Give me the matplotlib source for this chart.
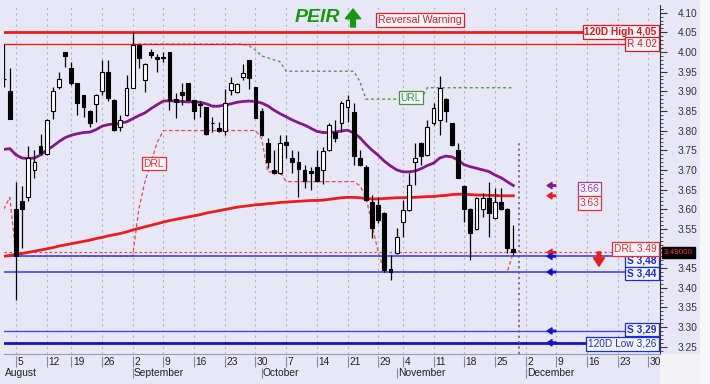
"""PEIR daily candles (Aug-Nov 2024) with support / resistance levels."""

import matplotlib
matplotlib.use("Agg")

import matplotlib.pyplot as plt
import numpy as np
import pandas as pd
from matplotlib.patches import Rectangle
from matplotlib.ticker import FuncFormatter, MultipleLocator
from matplotlib.transforms import blended_transform_factory

plt.rcParams["font.family"] = ["Liberation Sans", "DejaVu Sans"]

# ── trading calendar ───────────────────────────────────────────────────────────
first_day   = "2024-08-01"
last_day    = "2024-12-31"
holidays    = ["2024-08-15", "2024-10-28"]
month_names = ["August", "September", "October", "November", "December"]
marker_day  = "2024-11-29"
url_start   = "2024-09-02"

# ── OHLC, Aug 1 .. Nov 28 ──────────────────────────────────────────────────────
opens = [
    3.93, 3.90, 3.60, 3.62, 3.63, 3.70, 3.76, 3.74, 3.85, 3.91,
    4.00, 3.96, 3.92, 3.89, 3.85, 3.868, 3.90, 3.95, 3.878, 3.81,
    3.84, 3.909, 4.018, 3.929, 3.999, 3.988, 3.986, 4.001, 3.880, 3.899,
    3.920, 3.878, 3.865, 3.861, 3.820, 3.807, 3.799, 3.903, 3.899, 3.937,
    3.980, 3.912, 3.850, 3.768, 3.700, 3.691, 3.770, 3.731, 3.721, 3.700,
    3.697, 3.708, 3.700, 3.751, 3.797, 3.818, 3.861, 3.848, 3.729, 3.708,
    3.619, 3.611, 3.589, 3.447, 3.488, 3.568, 3.598, 3.719, 3.769, 3.738,
    3.818, 3.827, 3.880, 3.818, 3.751, 3.660, 3.600, 3.550, 3.600, 3.629,
    3.578, 3.619, 3.600, 3.499,
]
highs = [
    4.02, 3.96, 3.67, 3.66, 3.76, 3.75, 3.79, 3.83, 3.91, 3.95,
    4.00, 3.975, 3.92, 3.89, 3.853, 3.892, 3.98, 3.98, 3.88, 3.84,
    3.941, 4.05, 4.02, 3.971, 4.008, 3.996, 4.001, 4.001, 3.895, 3.92,
    3.920, 3.878, 3.874, 3.861, 3.835, 3.823, 3.907, 3.937, 3.920, 3.969,
    3.980, 3.912, 3.857, 3.780, 3.751, 3.789, 3.789, 3.751, 3.747, 3.712,
    3.708, 3.751, 3.757, 3.818, 3.827, 3.874, 3.890, 3.869, 3.751, 3.712,
    3.636, 3.632, 3.592, 3.484, 3.551, 3.623, 3.691, 3.768, 3.772, 3.827,
    3.869, 3.940, 3.882, 3.820, 3.768, 3.662, 3.602, 3.632, 3.640, 3.670,
    3.653, 3.653, 3.602, 3.560,
]
lows = [
    3.91, 3.83, 3.37, 3.50, 3.62, 3.68, 3.738, 3.738, 3.83, 3.905,
    3.963, 3.915, 3.84, 3.835, 3.81, 3.823, 3.89, 3.874, 3.799, 3.80,
    3.836, 3.909, 3.958, 3.899, 3.984, 3.95, 3.975, 3.852, 3.831, 3.865,
    3.878, 3.829, 3.835, 3.789, 3.797, 3.797, 3.789, 3.890, 3.895, 3.929,
    3.907, 3.831, 3.785, 3.704, 3.690, 3.689, 3.729, 3.691, 3.632, 3.653,
    3.649, 3.670, 3.663, 3.748, 3.772, 3.797, 3.823, 3.712, 3.710, 3.620,
    3.526, 3.565, 3.441, 3.420, 3.486, 3.530, 3.596, 3.662, 3.712, 3.734,
    3.814, 3.789, 3.823, 3.760, 3.678, 3.568, 3.471, 3.547, 3.581, 3.530,
    3.576, 3.598, 3.488, 3.484,
]
closes = [
    3.93, 3.83, 3.48, 3.60, 3.73, 3.72, 3.742, 3.827, 3.90, 3.93,
    3.99, 3.92, 3.87, 3.86, 3.818, 3.89, 3.95, 3.882, 3.801, 3.827,
    3.908, 4.018, 3.984, 3.969, 3.992, 3.982, 3.984, 3.878, 3.872, 3.890,
    3.878, 3.850, 3.868, 3.790, 3.818, 3.799, 3.869, 3.920, 3.918, 3.947,
    3.933, 3.831, 3.789, 3.721, 3.691, 3.768, 3.764, 3.721, 3.702, 3.672,
    3.691, 3.672, 3.748, 3.814, 3.780, 3.869, 3.878, 3.734, 3.712, 3.623,
    3.551, 3.573, 3.445, 3.441, 3.530, 3.598, 3.662, 3.729, 3.734, 3.810,
    3.858, 3.909, 3.850, 3.762, 3.680, 3.600, 3.539, 3.629, 3.629, 3.589,
    3.619, 3.600, 3.500, 3.490,
]

# ── indicators (same days as the candles) ──────────────────────────────────────
ma_purple = [
    3.752, 3.754, 3.738, 3.730, 3.729, 3.730, 3.738, 3.750, 3.760, 3.772,
    3.782, 3.788, 3.792, 3.795, 3.796, 3.802, 3.811, 3.815, 3.817, 3.819,
    3.822, 3.830, 3.838, 3.845, 3.856, 3.866, 3.875, 3.876, 3.875, 3.874,
    3.873, 3.873, 3.872, 3.868, 3.862, 3.862, 3.865, 3.868, 3.872, 3.874,
    3.875, 3.874, 3.870, 3.863, 3.852, 3.843, 3.835, 3.827, 3.820, 3.814,
    3.806, 3.798, 3.795, 3.795, 3.796, 3.799, 3.801, 3.794, 3.782, 3.765,
    3.750, 3.737, 3.722, 3.710, 3.700, 3.695, 3.695, 3.697, 3.703, 3.711,
    3.717, 3.730, 3.735, 3.733, 3.725, 3.713, 3.708, 3.704, 3.700, 3.696,
    3.687, 3.680, 3.670, 3.660,
]
ma_red = [
    3.480, 3.482, 3.485, 3.487, 3.490, 3.493, 3.496, 3.499, 3.502, 3.506,
    3.509, 3.512, 3.515, 3.518, 3.521, 3.525, 3.528, 3.532, 3.535, 3.538,
    3.542, 3.547, 3.551, 3.555, 3.559, 3.563, 3.567, 3.571, 3.574, 3.577,
    3.580, 3.583, 3.586, 3.590, 3.593, 3.596, 3.599, 3.602, 3.605, 3.607,
    3.609, 3.611, 3.612, 3.614, 3.615, 3.617, 3.618, 3.619, 3.620, 3.621,
    3.622, 3.622, 3.623, 3.625, 3.627, 3.629, 3.630, 3.630, 3.629, 3.627,
    3.626, 3.626, 3.627, 3.628, 3.629, 3.629, 3.630, 3.630, 3.631, 3.632,
    3.632, 3.634, 3.635, 3.637, 3.638, 3.638, 3.637, 3.636, 3.636, 3.635,
    3.635, 3.634, 3.634, 3.634,
]
drl = [
    3.60, 3.63, 3.48, 3.48, 3.48, 3.48, 3.48, 3.48, 3.48, 3.48,
    3.48, 3.48, 3.48, 3.48, 3.48, 3.48, 3.48, 3.48, 3.48, 3.48,
    3.48, 3.48, 3.60, 3.67, 3.72, 3.77, 3.80, 3.80, 3.80, 3.80,
    3.80, 3.80, 3.80, 3.80, 3.80, 3.80, 3.80, 3.80, 3.80, 3.80,
    3.80, 3.80, 3.78, 3.695, 3.695, 3.695, 3.67, 3.67, 3.67, 3.67,
    3.67, 3.67, 3.67, 3.67, 3.67, 3.67, 3.67, 3.67, 3.66, 3.63,
    3.56, 3.49, 3.44, 3.44, 3.44, 3.44, 3.44, 3.44, 3.44, 3.44,
    3.44, 3.44, 3.44, 3.44, 3.44, 3.44, 3.44, 3.44, 3.44, 3.44,
    3.44, 3.44, 3.44, 3.49,
]
# URL starts on Sep 2
url_line = [
    4.02, 4.02, 4.02, 4.02, 4.02, 4.02, 4.02, 4.02, 4.02, 4.02,
    4.02, 4.02, 4.02, 4.02, 4.02, 4.02, 4.02, 4.02, 4.02, 4.015,
    4.005, 3.99, 3.985, 3.98, 3.975, 3.951, 3.951, 3.951, 3.951, 3.951,
    3.951, 3.951, 3.951, 3.951, 3.951, 3.951, 3.951, 3.925, 3.88, 3.88,
    3.88, 3.88, 3.88, 3.88, 3.88, 3.88, 3.88, 3.88, 3.909, 3.909,
    3.909, 3.909, 3.909, 3.909, 3.909, 3.909, 3.909, 3.909, 3.909, 3.909,
    3.909, 3.909, 3.909,
]

# ── horizontal levels ──────────────────────────────────────────────────────────
level_values = [4.05, 4.02, 3.48, 3.44, 3.29, 3.26]
level_labels = ["120D High 4,05", "R 4.02", "S 3,48", "S 3,44", "S 3,29", "120D Low 3,26"]
drl_level    = 3.49
drl_label    = "DRL 3.49"
last_price   = "3.49000"
ma_labels    = ["3.66", "3.63"]

# ── styling ────────────────────────────────────────────────────────────────────
W, H   = 710, 384
BG     = "#e7e7f8"
RED    = "#ec1c1c"
BLUE   = "#3d47ee"
DBLUE  = "#1212d2"
PURPLE = "#86178a"
GREEN  = "#139a13"

level_style = [  # colour, width, label colour, bold, label y-offset
    (RED, 2.0, "#e01818", True, 0.0),
    (RED, 1.0, "#e01818", False, 0.0),
    (BLUE, 1.2, "#1a2ae0", True, -0.011),
    (BLUE, 1.2, "#1a2ae0", True, -0.004),
    (BLUE, 1.0, "#1a2ae0", True, 0.004),
    (DBLUE, 2.0, "#1a2ae0", False, -0.003),
]


def fx(px):
    return px / W


def fy(py):
    return 1 - py / H


def price_fmt(v, _):
    # the last-price box covers this tick label in the original
    return "" if abs(v - drl_level) < 0.02 else f"{v:.2f}"


days = pd.bdate_range(first_day, last_day)
days = days[~days.isin(pd.to_datetime(holidays))]
pos = np.arange(len(days))
n = len(opens)
xc = pos[:n]

x_left, x_right = 0.046, 106.89
y_low, y_high = 3.2314, 4.1195

fig = plt.figure(figsize=(W / 100, H / 100), dpi=100, facecolor=BG)
ax = fig.add_axes([fx(4), fy(354), fx(660) - fx(4), fy(5) - fy(354)])
ax.set_facecolor(BG)
ax.set_xlim(x_left, x_right)
ax.set_ylim(y_low, y_high)

# ── axes styling ──────────────────────────────────────────────────────────────
for s in ("left", "top"):
    ax.spines[s].set_visible(False)
ax.spines["bottom"].set_color("#9a9aa8")
ax.spines["right"].set_color("#333333")
ax.set_xticks([])
ax.yaxis.tick_right()
ax.yaxis.set_major_locator(MultipleLocator(0.05))
ax.yaxis.set_minor_locator(MultipleLocator(0.01))
ax.yaxis.set_major_formatter(FuncFormatter(price_fmt))
ax.tick_params(axis="y", which="major", length=5, width=0.8, pad=8,
               labelsize=7.3, colors="#333333")
ax.tick_params(axis="y", which="minor", length=2.5, width=0.6, colors="#333333")

# ── week grid + date strip ────────────────────────────────────────────────────
week_key = days.isocalendar().week.values
week_first = [i for i in pos if i == 0 or week_key[i] != week_key[i - 1]]
month_first = [i for i in pos if i == 0 or days[i].month != days[i - 1].month]

dax = fig.add_axes([fx(4), 0, fx(660) - fx(4), fy(354)], sharex=ax)
dax.set_ylim(30, 0)
dax.set_facecolor(BG)
dax.axis("off")

for i in week_first:
    if i < x_left:
        continue
    ax.axvline(i, color="#b2b2c4", lw=0.8, ls=(0, (2, 3)), zorder=1)
    dax.vlines(i, 1.7, 12.7, color="#8a8a96", lw=0.8)
    dax.text(i + 0.25, 7.6, str(days[i].day), fontsize=7.4, color="#222222",
             ha="left", va="center", clip_on=True)

for name, i in zip(month_names, month_first):
    xm = max(i, x_left)
    if i >= x_left:
        dax.vlines(i, 14, 24, color="#8a8a96", lw=0.8)
    dax.text(xm + 0.2, 19.3, name, fontsize=7.4, color="#222222",
             ha="left", va="center", clip_on=True)

# ── levels ────────────────────────────────────────────────────────────────────
ax.axhline(drl_level, color="#e84a4a", lw=0.9, ls=(0, (2, 2)), zorder=2)
ax.plot(xc, drl, color="#e84a4a", lw=0.9, ls=(0, (3, 2)), zorder=2.5)

url_x = pos[days >= pd.Timestamp(url_start)][:len(url_line)]
ax.plot(url_x, url_line, color="#4c9c4c", lw=1.0, ls=(0, (2, 2)), zorder=2.5)

for val, (col, lw, _, _, _) in zip(level_values, level_style):
    ax.axhline(val, color=col, lw=lw, zorder=3)

# ── moving averages ───────────────────────────────────────────────────────────
ax.plot(xc, ma_red, color=RED, lw=2.0, zorder=4)
ax.plot(xc, ma_purple, color=PURPLE, lw=2.0, zorder=4)

# ── candles ───────────────────────────────────────────────────────────────────
o = np.array(opens)
c = np.array(closes)
ax.vlines(xc, lows, highs, color="black", lw=0.9, zorder=5)
fills = np.where(c >= o, "white", "black")
ax.bar(xc, np.abs(c - o), bottom=np.minimum(o, c), width=0.62,
       color=fills, edgecolor="black", linewidth=0.8, zorder=6)

marker_x = pos[days == pd.Timestamp(marker_day)][0]
ax.vlines(marker_x, y_low, 3.768, colors="#7a4a8a", lw=1.1,
          linestyles=(0, (1.5, 2)), zorder=3)

# ── labels ────────────────────────────────────────────────────────────────────
def boxed(x, y, text, color, size=7.3, bold=False, ha="right", face="#f6f6fe"):
    ax.text(x, y, text, fontsize=size, color=color, ha=ha, va="center",
            fontweight="bold" if bold else "normal", zorder=8,
            bbox=dict(boxstyle="square,pad=0.18", facecolor=face,
                      edgecolor=color, linewidth=0.9))


for val, lab, (_, _, tcol, bold, dy) in zip(level_values, level_labels, level_style):
    boxed(106.35, val + dy, lab, tcol, bold=bold)
boxed(106.35, drl_level + 0.009, drl_label, "#e83030")

boxed(24.4, 3.716, "DRL", "#e83030", ha="center")
boxed(66.3, 3.884, "URL", "#3a9a3a", ha="center")

boxed(95.4, ma_purple[-1] - 0.008, ma_labels[0], "#9a40a8", ha="center")
boxed(95.4, ma_red[-1] - 0.018, ma_labels[1], "#e83030", ha="center")

trans = blended_transform_factory(ax.transAxes, ax.transData)
ax.text(1.006, drl_level, last_price, transform=trans, fontsize=5.8, color="#ff3a3a",
        ha="left", va="center", clip_on=False, zorder=9,
        bbox=dict(boxstyle="square,pad=0.25", facecolor="black", edgecolor="black"))

# small arrows pointing at current levels
arrow_levels = [ma_purple[-1], ma_red[-1], drl_level] + level_values[2:]
arrow_colors = [PURPLE, RED, RED, DBLUE, DBLUE, DBLUE, DBLUE]
for yv, col in zip(arrow_levels, arrow_colors):
    ax.annotate("", xy=(88.5, yv), xytext=(89.9, yv),
                arrowprops=dict(width=1.1, headwidth=4.5, headlength=3.5,
                                color=col, shrink=0), zorder=8)

ax.annotate("", xy=(96.95, 3.455), xytext=(96.95, 3.491),
            arrowprops=dict(width=2.6, headwidth=8, headlength=6, color=RED, shrink=0),
            zorder=8)

# ── header ────────────────────────────────────────────────────────────────────
fig.text(fx(295), fy(18), "PEIR", fontsize=14, fontweight="bold", fontstyle="italic",
         color=GREEN, ha="left", va="center")
ax.annotate("", xy=(fx(353), fy(9)), xytext=(fx(353), fy(27)), xycoords="figure fraction",
            arrowprops=dict(width=3.5, headwidth=11, headlength=7, color=GREEN, shrink=0))
fig.text(fx(420), fy(20), "Reversal Warning", fontsize=7.6, color="#e41c1c",
         ha="center", va="center",
         bbox=dict(boxstyle="square,pad=0.18", facecolor="#f6f6fe",
                   edgecolor="#e41c1c", linewidth=0.9))

# light corner + right edge
fig.patches.append(Rectangle((fx(660), 0), fx(710) - fx(660), fy(354),
                             transform=fig.transFigure, facecolor="#f3f3f6",
                             edgecolor="none", zorder=-1))
fig.patches.append(Rectangle((fx(700), 0), fx(710) - fx(700), 1,
                             transform=fig.transFigure, facecolor="#f7f7f9",
                             edgecolor="none", zorder=-1))

fig.savefig("out.png", dpi=100, facecolor=BG)
